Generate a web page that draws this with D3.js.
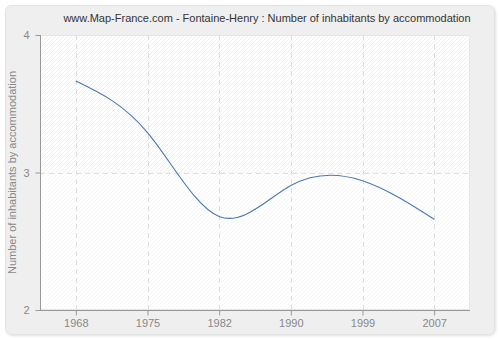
<!DOCTYPE html>
<html><head><meta charset="utf-8">
<script src="https://cdn.jsdelivr.net/npm/d3@7"></script>
<style>body{margin:0;background:#fff;}svg{display:block;font-family:"Liberation Sans",Arial,sans-serif;}</style>
</head><body>
<svg id="c" width="500" height="340"></svg>
<script>
const title = "www.Map-France.com - Fontaine-Henry : Number of inhabitants by accommodation";
const yLabel = "Number of inhabitants by accommodation";
const years = ["1968","1975","1982","1990","1999","2007"];
const values = [3.665, 3.29, 2.68, 2.905, 2.94, 2.66];
const yTicks = [2,3,4];

const svg = d3.select("#c");
const m = {l:40, r:30, t:35, b:30};
const W = 500, H = 340;
const x = d3.scalePoint().domain(years).range([m.l, W - m.r]).padding(0.5);
const y = d3.scaleLinear().domain([2,4]).range([H - m.b, m.t]);

const defs = svg.append("defs");
const f = defs.append("filter").attr("id","sh").attr("x","-5%").attr("y","-5%").attr("width","110%").attr("height","110%");
f.append("feDropShadow").attr("dx",1).attr("dy",1).attr("stdDeviation",1.2).attr("flood-color","#000").attr("flood-opacity",0.12);
function pat(id, col){
  const p = defs.append("pattern").attr("id",id).attr("patternUnits","userSpaceOnUse").attr("width",4).attr("height",4);
  p.append("rect").attr("width",4).attr("height",4).attr("fill","#fff");
  p.append("path").attr("d","M-1,1 l2,-2 M0,4 l4,-4 M3,5 l2,-2").attr("stroke",col).attr("stroke-width",0.8);
}
pat("hatchA","#ececec");
pat("hatchB","#f5f5f5");

svg.append("rect").attr("x",5.5).attr("y",5.5).attr("width",489).attr("height",329).attr("rx",6)
  .attr("fill","#efefef").attr("stroke","#e2e2e2").attr("filter","url(#sh)");

svg.append("rect").attr("x",m.l).attr("y",y(4)).attr("width",W-m.r-m.l).attr("height",y(3)-y(4)).attr("fill","url(#hatchA)");
svg.append("rect").attr("x",m.l).attr("y",y(3)).attr("width",W-m.r-m.l).attr("height",y(2)-y(3)).attr("fill","url(#hatchB)");
svg.append("rect").attr("x",m.l+0.5).attr("y",m.t+0.5).attr("width",W-m.r-m.l-1).attr("height",H-m.b-m.t-1)
  .attr("fill","none").attr("stroke","#e6e6e6");

const g = svg.append("g");
g.selectAll("line.vx").data(years).join("line")
  .attr("x1",d=>Math.round(x(d))+0.5).attr("x2",d=>Math.round(x(d))+0.5)
  .attr("y1",m.t).attr("y2",H-m.b).attr("stroke","#dedede").attr("stroke-dasharray","5,4");
g.selectAll("line.hy").data([3]).join("line")
  .attr("x1",m.l).attr("x2",W-m.r).attr("y1",d=>Math.round(y(d))+0.5).attr("y2",d=>Math.round(y(d))+0.5)
  .attr("stroke","#dedede").attr("stroke-dasharray","5,4");

const line = d3.line().x((d,i)=>x(years[i])).y(d=>y(d)).curve(d3.curveNatural);
svg.append("path").datum(values).attr("d",line).attr("fill","none").attr("stroke","#4a78b0").attr("stroke-width",1.1);

const xa = svg.append("g").attr("transform",`translate(0,${H-m.b+0.5})`)
  .call(d3.axisBottom(x).tickSize(5).tickPadding(4));
const ya = svg.append("g").attr("transform",`translate(${m.l+0.5},0)`)
  .call(d3.axisLeft(y).tickValues(yTicks).tickFormat(d3.format("d")).tickSize(5).tickPadding(6));
[xa,ya].forEach(a=>{
  a.select(".domain").attr("stroke","#999");
  a.selectAll(".tick line").attr("stroke","#999");
  a.selectAll("text").attr("fill","#888").attr("font-size",11).attr("font-family",'"Liberation Sans",Arial,sans-serif');
});
xa.select(".domain").attr("d",`M${m.l},0H${W-m.r}`);
ya.select(".domain").attr("d",`M0,${m.t}V${H-m.b}`);

svg.append("text").attr("x",267).attr("y",22).attr("text-anchor","middle").attr("font-size",11).attr("fill","#333").text(title);
svg.append("text").attr("transform",`translate(16,${(m.t+H-m.b)/2}) rotate(-90)`).attr("text-anchor","middle")
  .attr("font-size",11).attr("fill","#888").text(yLabel);
</script>
</body></html>
